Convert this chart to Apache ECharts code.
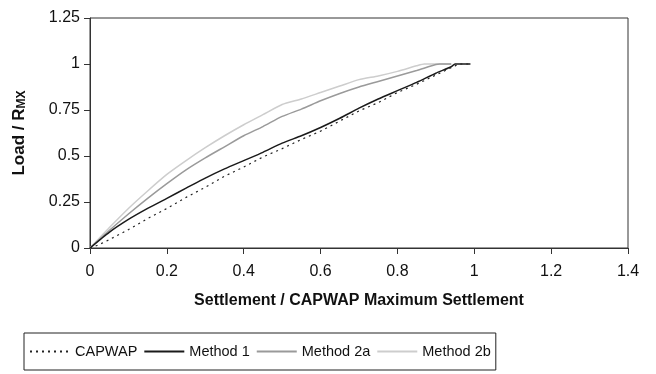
<!DOCTYPE html>
<html>
<head>
<meta charset="utf-8">
<script src="https://cdn.jsdelivr.net/npm/echarts@6/dist/echarts.min.js"></script>
<style>
  html, body { margin: 0; padding: 0; background: #fff; }
  #chart { width: 656px; height: 374px; }
</style>
</head>
<body>
<div id="chart"></div>
<script>
// settlement / max settlement (x) and load / Rmx (y)
const capwapX = [0, 0.02, 0.05, 0.1, 0.15, 0.2, 0.25, 0.3, 0.35, 0.4, 0.45, 0.5, 0.55, 0.6, 0.65, 0.7, 0.75, 0.8, 0.85, 0.9, 0.95, 0.96, 0.99]
const capwapY = [0, 0.015, 0.045, 0.1, 0.16, 0.215, 0.275, 0.33, 0.39, 0.44, 0.495, 0.54, 0.59, 0.635, 0.69, 0.745, 0.79, 0.845, 0.89, 0.94, 0.99, 1, 1]

const method1X = [0, 0.05, 0.1, 0.15, 0.2, 0.25, 0.3, 0.35, 0.4, 0.45, 0.5, 0.55, 0.6, 0.65, 0.7, 0.75, 0.8, 0.85, 0.9, 0.94, 0.95, 0.99]
const method1Y = [0, 0.085, 0.155, 0.215, 0.27, 0.325, 0.38, 0.43, 0.475, 0.52, 0.57, 0.61, 0.655, 0.705, 0.76, 0.81, 0.855, 0.9, 0.95, 0.985, 1, 1]

const method2aX = [0, 0.05, 0.1, 0.15, 0.2, 0.25, 0.3, 0.35, 0.4, 0.45, 0.5, 0.55, 0.6, 0.65, 0.7, 0.75, 0.8, 0.85, 0.9, 0.91, 0.94]
const method2aY = [0, 0.095, 0.185, 0.27, 0.35, 0.425, 0.49, 0.55, 0.61, 0.66, 0.715, 0.755, 0.8, 0.84, 0.875, 0.905, 0.935, 0.965, 0.997, 1, 1]

const method2bX = [0, 0.05, 0.1, 0.15, 0.2, 0.25, 0.3, 0.35, 0.4, 0.45, 0.5, 0.55, 0.6, 0.65, 0.7, 0.75, 0.8, 0.85, 0.87, 0.94]
const method2bY = [0, 0.11, 0.215, 0.31, 0.4, 0.475, 0.545, 0.61, 0.67, 0.725, 0.78, 0.81, 0.845, 0.88, 0.915, 0.935, 0.96, 0.99, 1, 1]

const seriesNames = ['CAPWAP', 'Method 1', 'Method 2a', 'Method 2b']

function pairs (xs, ys) {
  return xs.map((x, i) => [x, ys[i]])
}

const myChart = echarts.init(document.getElementById('chart'))
const font = 'Liberation Sans, Arial, sans-serif'

myChart.setOption({
  animation: false,
  backgroundColor: '#fff',
  textStyle: { fontFamily: font },
  grid: {
    left: 90,
    right: 28,
    top: 18,
    bottom: 126,
    show: true,
    borderColor: '#333',
    borderWidth: 1
  },
  legend: {
    left: 24,
    top: 333,
    data: seriesNames,
    borderColor: '#222',
    borderWidth: 1,
    borderRadius: 0,
    padding: [11, 5],
    itemGap: 6,
    itemWidth: 40,
    itemHeight: 12,
    itemStyle: { opacity: 0 },
    textStyle: { fontFamily: font, fontSize: 14.5, color: '#111' }
  },
  xAxis: {
    type: 'value',
    min: 0,
    max: 1.4,
    interval: 0.2,
    name: 'Settlement / CAPWAP Maximum Settlement',
    nameLocation: 'middle',
    nameGap: 45,
    nameTextStyle: { fontFamily: font, fontSize: 16, fontWeight: 'bold', color: '#111' },
    axisLine: { lineStyle: { color: '#333', width: 1 } },
    axisTick: { show: true, length: 6, lineStyle: { color: '#333' } },
    axisLabel: { fontFamily: font, fontSize: 16, color: '#111', margin: 16 },
    splitLine: { show: false }
  },
  yAxis: {
    type: 'value',
    min: 0,
    max: 1.25,
    interval: 0.25,
    name: '{a|Load / R}{b|MX}',
    nameLocation: 'middle',
    nameGap: 62,
    nameTextStyle: {
      rich: {
        a: { fontFamily: font, fontSize: 17, fontWeight: 'bold', color: '#111' },
        b: { fontFamily: font, fontSize: 12, fontWeight: 'bold', color: '#111', padding: [4, 0, 0, 0] }
      }
    },
    axisLine: { show: true, lineStyle: { color: '#333', width: 1 } },
    axisTick: { show: true, length: 6, lineStyle: { color: '#333' } },
    axisLabel: { fontFamily: font, fontSize: 16, color: '#111', margin: 10 },
    splitLine: { show: false }
  },
  series: [
    {
      name: 'CAPWAP',
      type: 'line',
      symbol: 'none',
      z: 5,
      data: pairs(capwapX, capwapY),
      lineStyle: { color: '#222', width: 1.2, type: [2, 4] },
      itemStyle: { color: '#222' }
    },
    {
      name: 'Method 1',
      type: 'line',
      symbol: 'none',
      smooth: 0.2,
      z: 4,
      data: pairs(method1X, method1Y),
      lineStyle: { color: '#1a1a1a', width: 1.5 },
      itemStyle: { color: '#1a1a1a' }
    },
    {
      name: 'Method 2a',
      type: 'line',
      symbol: 'none',
      smooth: 0.2,
      z: 3,
      data: pairs(method2aX, method2aY),
      lineStyle: { color: '#9a9a9a', width: 1.5 },
      itemStyle: { color: '#9a9a9a' }
    },
    {
      name: 'Method 2b',
      type: 'line',
      symbol: 'none',
      smooth: 0.2,
      z: 2,
      data: pairs(method2bX, method2bY),
      lineStyle: { color: '#cdcdcd', width: 1.5 },
      itemStyle: { color: '#cdcdcd' }
    }
  ]
})

window.addEventListener('resize', () => {
  myChart.resize()
})
</script>
</body>
</html>
